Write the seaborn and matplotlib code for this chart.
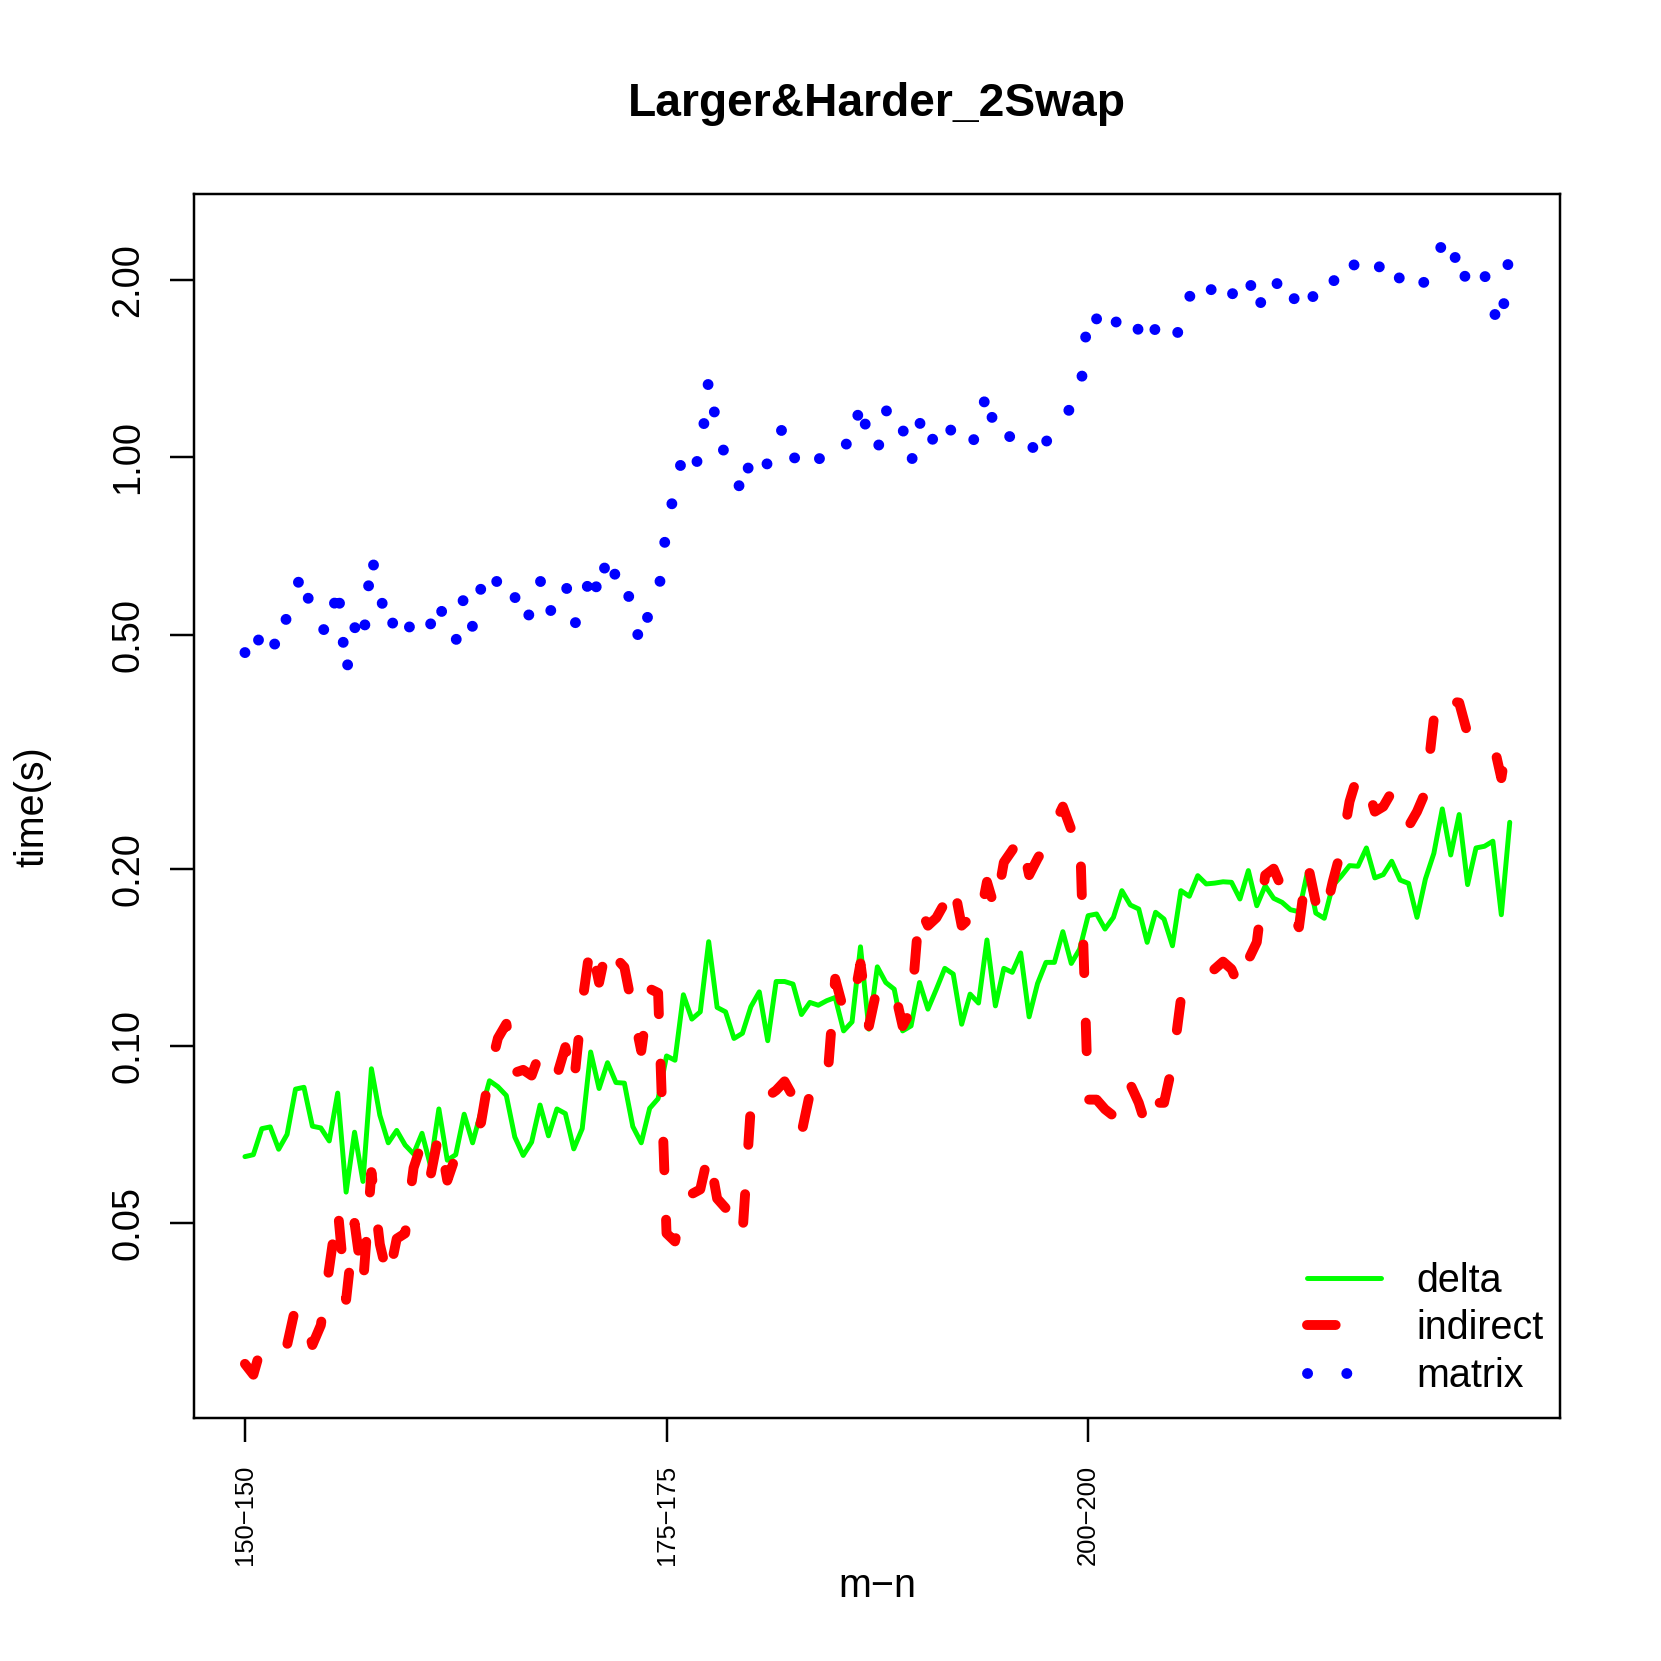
import numpy as np
import pandas as pd
import matplotlib
matplotlib.use("Agg")
import matplotlib.pyplot as plt
from matplotlib.lines import Line2D
import seaborn as sns

# ---------------- data ----------------
instance = np.arange(151)

delta = [
    0.0648, 0.0653, 0.0723, 0.0728, 0.0667, 0.0707, 0.0844, 0.0850, 0.0730, 0.0725,
    0.0689, 0.0831, 0.0564, 0.0713, 0.0588, 0.0914, 0.0762, 0.0684, 0.0718, 0.0678,
    0.0655, 0.0710, 0.0626, 0.0781, 0.0639, 0.0653, 0.0765, 0.0684, 0.0773, 0.0872,
    0.0852, 0.0823, 0.0700, 0.0651, 0.0686, 0.0793, 0.0703, 0.0781, 0.0767, 0.0668,
    0.0723, 0.0976, 0.0846, 0.0936, 0.0866, 0.0864, 0.0729, 0.0684, 0.0783, 0.0813,
    0.0961, 0.0945, 0.1221, 0.1110, 0.1142, 0.1503, 0.1162, 0.1142, 0.1029, 0.1050,
    0.1165, 0.1235, 0.1020, 0.1286, 0.1286, 0.1273, 0.1130, 0.1185, 0.1172, 0.1193,
    0.1208, 0.1060, 0.1098, 0.1473, 0.1067, 0.1362, 0.1281, 0.1248, 0.1060, 0.1081,
    0.1281, 0.1154, 0.1248, 0.1354, 0.1324, 0.1088, 0.1224, 0.1182, 0.1513, 0.1169,
    0.1354, 0.1333, 0.1438, 0.1120, 0.1276, 0.1386, 0.1386, 0.1563, 0.1380, 0.1460,
    0.1664, 0.1675, 0.1579, 0.1653, 0.1835, 0.1735, 0.1708, 0.1499, 0.1686, 0.1642,
    0.1479, 0.1835, 0.1795, 0.1946, 0.1884, 0.1890, 0.1900, 0.1896, 0.1776, 0.1985,
    0.1730, 0.1871, 0.1781, 0.1753, 0.1703, 0.1690, 0.1972, 0.1681, 0.1647, 0.1871,
    0.1941, 0.2024, 0.2019, 0.2169, 0.1929, 0.1954, 0.2059, 0.1913, 0.1888, 0.1653,
    0.1921, 0.2124, 0.2527, 0.2110, 0.2472, 0.1879, 0.2169, 0.2183, 0.2227, 0.1670,
    0.2398,
]

indirect = [
    0.0288, 0.0276, 0.0310, 0.0300, 0.0300, 0.0310, 0.0360, 0.0352, 0.0310, 0.0335,
    0.0420, 0.0530, 0.0370, 0.0500, 0.0392, 0.0610, 0.0460, 0.0400, 0.0470, 0.0480,
    0.0620, 0.0685, 0.0600, 0.0710, 0.0590, 0.0650, 0.0690, 0.0710, 0.0740, 0.0900,
    0.1030, 0.1090, 0.0900, 0.0910, 0.0890, 0.0975, 0.0900, 0.0890, 0.0995, 0.0860,
    0.1180, 0.1500, 0.1280, 0.1500, 0.1410, 0.1360, 0.1150, 0.0980, 0.1250, 0.1230,
    0.0480, 0.0465, 0.0540, 0.0560, 0.0570, 0.0660, 0.0550, 0.0530, 0.0476, 0.0477,
    0.0790, 0.0850, 0.0820, 0.0840, 0.0870, 0.0820, 0.0710, 0.0830, 0.0850, 0.0850,
    0.1300, 0.1150, 0.1150, 0.1380, 0.1080, 0.1260, 0.1240, 0.1250, 0.1080, 0.1150,
    0.1720, 0.1600, 0.1650, 0.1750, 0.1900, 0.1600, 0.1650, 0.1600, 0.1900, 0.1700,
    0.2050, 0.2150, 0.2280, 0.1950, 0.2080, 0.2200, 0.2380, 0.2550, 0.2330, 0.2350,
    0.0810, 0.0810, 0.0780, 0.0760, 0.0870, 0.0860, 0.0800, 0.0720, 0.0800, 0.0800,
    0.0930, 0.1200, 0.1270, 0.1280, 0.1310, 0.1350, 0.1390, 0.1350, 0.1250, 0.1400,
    0.1500, 0.1950, 0.2000, 0.1850, 0.1700, 0.1590, 0.2050, 0.1750, 0.1640, 0.1900,
    0.2150, 0.2600, 0.2900, 0.2800, 0.2500, 0.2550, 0.2700, 0.2660, 0.2360, 0.2500,
    0.2700, 0.3600, 0.4000, 0.3850, 0.3830, 0.3390, 0.3350, 0.3300, 0.3300, 0.2850,
    0.3500,
]

matrix = [
    0.466, 0.445, 0.520, 0.495, 0.470, 0.540, 0.600, 0.640, 0.520, 0.515,
    0.500, 0.610, 0.430, 0.515, 0.480, 0.680, 0.590, 0.505, 0.540, 0.500,
    0.530, 0.500, 0.520, 0.575, 0.495, 0.485, 0.585, 0.515, 0.600, 0.650,
    0.610, 0.560, 0.580, 0.520, 0.550, 0.620, 0.540, 0.575, 0.615, 0.520,
    0.540, 0.650, 0.580, 0.690, 0.625, 0.640, 0.530, 0.480, 0.555, 0.580,
    0.760, 0.880, 1.020, 0.960, 1.000, 1.360, 1.120, 1.000, 0.950, 0.860,
    1.010, 1.030, 0.970, 1.080, 1.130, 1.000, 0.990, 1.040, 0.990, 1.030,
    1.010, 1.060, 1.040, 1.250, 1.060, 1.020, 1.210, 1.090, 1.120, 0.975,
    1.150, 1.030, 1.110, 1.170, 1.090, 1.070, 1.030, 1.130, 1.300, 1.090,
    1.120, 1.070, 1.110, 1.090, 0.980, 1.060, 1.140, 1.160, 1.220, 1.250,
    1.780, 1.720, 1.600, 1.680, 1.740, 1.780, 1.640, 1.540, 1.660, 1.710,
    1.600, 1.650, 1.880, 1.860, 2.000, 1.880, 1.970, 1.880, 2.030, 2.050,
    1.760, 1.920, 2.040, 1.880, 1.790, 1.960, 1.990, 1.820, 1.940, 1.980,
    2.100, 2.200, 2.060, 2.100, 2.040, 2.170, 2.190, 2.000, 1.890, 1.960,
    1.990, 2.160, 2.300, 2.100, 2.270, 1.930, 2.010, 2.050, 1.780, 1.660,
    2.280,
]

x_tick_pos = [0, 50, 100]
x_tick_labels = ["150\u2212150", "175\u2212175", "200\u2212200"]
y_ticks = [0.05, 0.10, 0.20, 0.50, 1.00, 2.00]
y_tick_labels = ["0.05", "0.10", "0.20", "0.50", "1.00", "2.00"]
series_names = ["delta", "indirect", "matrix"]

# ---------------- figure ----------------
sns.set_style("white")
plt.rcParams["font.family"] = ["Liberation Sans", "DejaVu Sans"]
plt.rcParams["axes.unicode_minus"] = True
plt.rcParams["text.color"] = "black"
plt.rcParams["axes.labelcolor"] = "black"
plt.rcParams["xtick.color"] = "black"
plt.rcParams["ytick.color"] = "black"
plt.rcParams["axes.edgecolor"] = "black"

DPI = 1661 / 7.0
fig = plt.figure(figsize=(7, 7), dpi=DPI)
fig.patch.set_facecolor("white")
ax = fig.add_axes([0.1170, 0.1463, 0.8224, 0.7367])

df = pd.DataFrame({"instance": instance, "delta": delta,
                   "indirect": indirect, "matrix": matrix})

GREEN, RED, BLUE = "#00FF00", "#FF0000", "#0000FF"
RED_LW, BLUE_LW = 3.0, 3.3
RED_DASH = (2.9, 5.0)
BLUE_DOT = (0.01, 3.6)

sns.lineplot(data=df, x="instance", y="delta", color=GREEN, lw=1.5, ax=ax)
ln = ax.lines[-1]
ln.set_solid_joinstyle("round")
ln.set_solid_capstyle("round")

sns.lineplot(data=df, x="instance", y="indirect", color=RED, lw=RED_LW, ax=ax)
ln = ax.lines[-1]
ln.set_dashes(RED_DASH)
ln.set_dash_capstyle("round")
ln.set_dash_joinstyle("round")

sns.lineplot(data=df, x="instance", y="matrix", color=BLUE, lw=BLUE_LW, ax=ax)
ln = ax.lines[-1]
ln.set_dashes(BLUE_DOT)
ln.set_dash_capstyle("round")
ln.set_dash_joinstyle("round")

ax.set_yscale("log")
ax.set_xlim(-6, 156)
ax.set_ylim(0.0233, 2.80)

ax.set_yticks(y_ticks)
ax.set_yticklabels(y_tick_labels)
ax.yaxis.set_minor_locator(matplotlib.ticker.NullLocator())
ax.set_xticks(x_tick_pos)
ax.set_xticklabels(x_tick_labels)

ax.tick_params(axis="y", which="major", length=7.2, width=0.75, color="black",
               labelcolor="black", labelsize=11.5, pad=7.4, left=True, direction="out")
ax.tick_params(axis="x", which="major", length=7.2, width=0.75, color="black",
               labelcolor="black", labelsize=7.75, pad=7.0, bottom=True, direction="out")
for t in ax.get_yticklabels():
    t.set_rotation(90)
    t.set_va("center")
for t in ax.get_xticklabels():
    t.set_rotation(90)
    t.set_ha("center")

for s in ax.spines.values():
    s.set_visible(True)
    s.set_color("black")
    s.set_linewidth(0.75)

ax.set_xlabel("m\u2212n", fontsize=12, color="black")
ax.xaxis.label.set_va("center")
ax.xaxis.set_label_coords(0.5, -0.1373)
ax.set_ylabel("time(s)", fontsize=12, color="black")
ax.yaxis.label.set_va("center")
ax.yaxis.label.set_ha("center")
ax.yaxis.set_label_coords(-0.1188, 0.5)

ax.text(0.5, 1.064, "Larger&Harder_2Swap", transform=ax.transAxes,
        ha="center", va="baseline", fontsize=14, fontweight="bold", color="black")

handles = [
    Line2D([], [], color=GREEN, lw=1.5, solid_capstyle="round"),
    Line2D([], [], color=RED, lw=RED_LW, dashes=RED_DASH, dash_capstyle="round"),
    Line2D([], [], color=BLUE, lw=BLUE_LW, dashes=BLUE_DOT, dash_capstyle="round"),
]
leg = ax.legend(handles, series_names, loc="center left", bbox_to_anchor=(0.8145, 0.0734),
                frameon=False, fontsize=12, handlelength=1.885, handletextpad=0.88,
                labelspacing=0.24, borderpad=0, borderaxespad=0)
for t in leg.get_texts():
    t.set_color("black")

fig.savefig("out.png", dpi=DPI, facecolor="white")
